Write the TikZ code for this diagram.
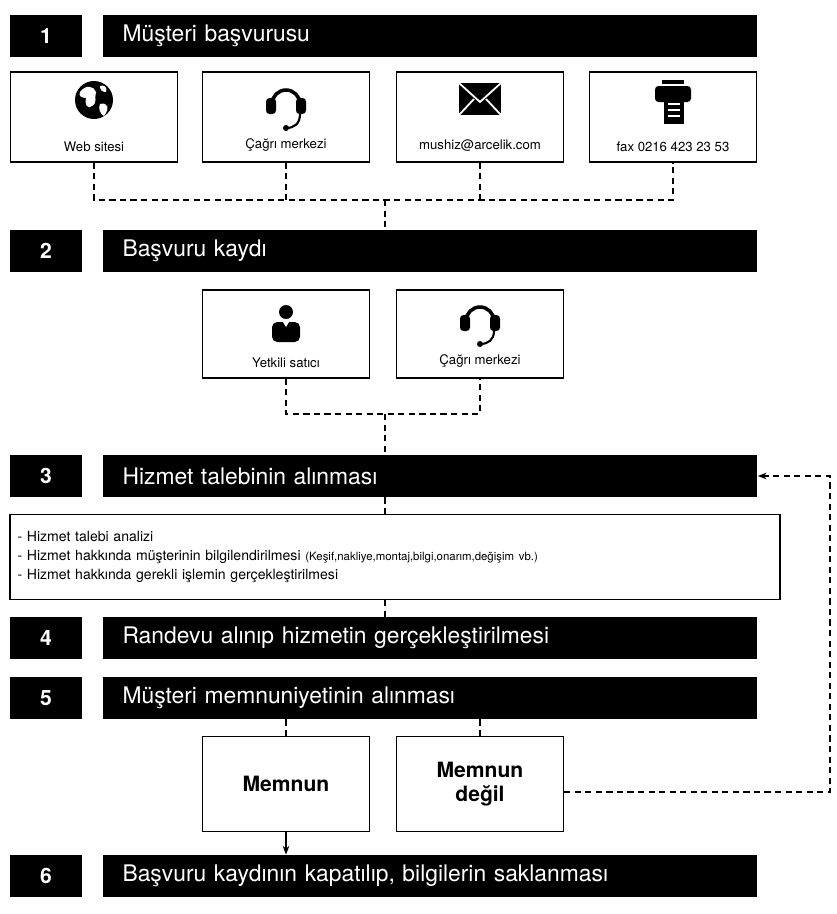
\documentclass[tikz,border=0pt]{standalone}
\usepackage{fontspec}
\setmainfont{TeX Gyre Heros}
\usetikzlibrary{positioning,arrows.meta}

\begin{document}
\begin{tikzpicture}
[x=0.02cm,y=-0.02cm,
numbox/.style={fill=black,text=white,minimum width=1.44cm,minimum height=0.84cm,font=\large\bfseries},
titlebar/.style={fill=black,text=white,minimum height=0.84cm,text width=12.3cm,inner xsep=0.4cm,align=left,font=\fontsize{13}{15}\selectfont},
chanbox/.style={draw,thick,minimum width=3.34cm,minimum height=1.8cm},
okbox/.style={draw,thick,minimum width=3.34cm,minimum height=1.9cm,align=center,font=\large\bfseries},
captext/.style={font=\fontsize{7.5}{9}\selectfont,above=3pt},
link/.style={dash pattern=on 3.5pt off 2.5pt,line width=0.9pt}]
\useasboundingbox (0,0) rectangle (837,914);
% rows
\node[numbox](n1) at (46,36){1};
\node[titlebar](t1) at (430,36){Müşteri başvurusu};
\node[numbox](n2) at (46,251){2};
\node[titlebar](t2) at (430,251){Başvuru kaydı};
\node[numbox](n3) at (46,476){3};
\node[titlebar](t3) at (430,476){Hizmet talebinin alınması};
\node[numbox](n4) at (46,638){4};
\node[titlebar](t4) at (430,638){Randevu alınıp hizmetin gerçekleştirilmesi};
\node[numbox](n5) at (46,698){5};
\node[titlebar](t5) at (430,698){Müşteri memnuniyetinin alınması};
\node[numbox](n6) at (46,876){6};
\node[titlebar](t6) at (430,876){Başvuru kaydının kapatılıp, bilgilerin saklanması};
% channels
\node[chanbox](web) at (94,117){};
\node[chanbox](cagri) at (286,117){};
\node[chanbox](mail) at (480,117){};
\node[chanbox](fax) at (673,117){};
\node[captext](webt) at (web.south){Web sitesi};
\node[captext](cagrit) at (cagri.south){Çağrı merkezi};
\node[captext](mailt) at (mail.south){mushiz@arcelik.com};
\node[captext](faxt) at (fax.south){fax 0216 423 23 53};
% icons
\fill (94,100) circle (19);
\fill[white] (80,92) .. controls (86,84) and (94,86) .. (96,92) .. controls (94,98) and (98,102) .. (92,106) .. controls (88,110) and (84,104) .. (86,98) .. controls (82,98) and (78,96) .. (80,92);
\fill[white] (100,104) .. controls (108,102) and (110,108) .. (104,116) .. controls (100,114) and (98,108) .. (100,104);
\fill[white] (100,86) .. controls (104,84) and (108,88) .. (106,92) .. controls (102,92) and (100,90) .. (100,86);
\draw[line width=2pt] (272,104) arc (180:360:14);
\fill[rounded corners=2pt] (266,98) rectangle (276,114) (296,98) rectangle (306,114);
\draw[line width=1.2pt] (300,114) .. controls (300,124) and (294,128) .. (286,128);
\fill (286,128) circle (3);
\fill (459,83) rectangle (501,115);
\draw[white,line width=1pt] (459,83) -- (480,102) -- (501,83) (459,115) -- (474,99) (501,115) -- (486,99);
\fill (662,80) rectangle (684,84);
\fill[rounded corners=2pt] (655,86) rectangle (691,102);
\fill (664,96) rectangle (684,124);
\draw[white,line width=1pt] (668,104) -- (680,104) (668,110) -- (680,110) (668,116) -- (680,116);
% second step boxes
\node[chanbox,minimum height=1.76cm](bayi) at (286,334){};
\node[chanbox,minimum height=1.76cm](cagri2) at (480,334){};
\node[captext](bayit) at (bayi.south){Yetkili satıcı};
\node[captext](cagri2t) at (cagri2.south){Çağrı merkezi};
\fill (286,312) circle (7);
\fill[rounded corners=3pt] (272,342) -- (272,322) -- (300,322) -- (300,342) -- cycle;
\fill[white] (283,322) -- (289,322) -- (286,327) -- cycle;
\draw[line width=2pt] (466,321) arc (180:360:14);
\fill[rounded corners=2pt] (460,315) rectangle (470,331) (490,315) rectangle (500,331);
\draw[line width=1.2pt] (494,331) .. controls (494,340) and (488,344) .. (480,344);
\fill (480,344) circle (3);
% info
\node[draw,thick,minimum width=15.4cm,minimum height=1.7cm,text width=15.1cm,align=left,
  font=\fontsize{8}{11}\selectfont](info) at (395,557){- Hizmet talebi analizi\\
- Hizmet hakkında müşterinin bilgilendirilmesi {\fontsize{6.5}{11}\selectfont(Keşif,nakliye,montaj,bilgi,onarım,değişim vb.)}\\
- Hizmet hakkında gerekli işlemin gerçekleştirilmesi};
% result
\node[okbox](ok) at (286,784){Memnun};
\node[okbox](notok) at (480,784){Memnun\\değil};
% links
\coordinate (j1) at (385,200);
\coordinate (j2) at (385,414);
\coordinate (back) at (830,792);
\draw[link] (web.south) |- (j1) -| (fax.south);
\draw[link] (cagri.south) -- (cagri.south |- j1);
\draw[link] (mail.south) -- (mail.south |- j1);
\draw[link] (j1) -- (j1 |- t2.north);
\draw[link] (bayi.south) |- (j2) -| (cagri2.south);
\draw[link] (j2) -- (j2 |- t3.north);
\draw[link] (t3.south -| j1) -- (info.north -| j1);
\draw[link] (info.south -| j1) -- (t4.north -| j1);
\draw[link] (t5.south -| ok) -- (ok.north);
\draw[link] (t5.south -| notok) -- (notok.north);
\draw[link,-{Stealth[length=5pt]}] (notok.east |- back) -- (back) |- (t3.east);
\draw[thick,-{Stealth[length=5pt]}] (ok.south) -- (t6.north -| ok);
\end{tikzpicture}
\end{document}
